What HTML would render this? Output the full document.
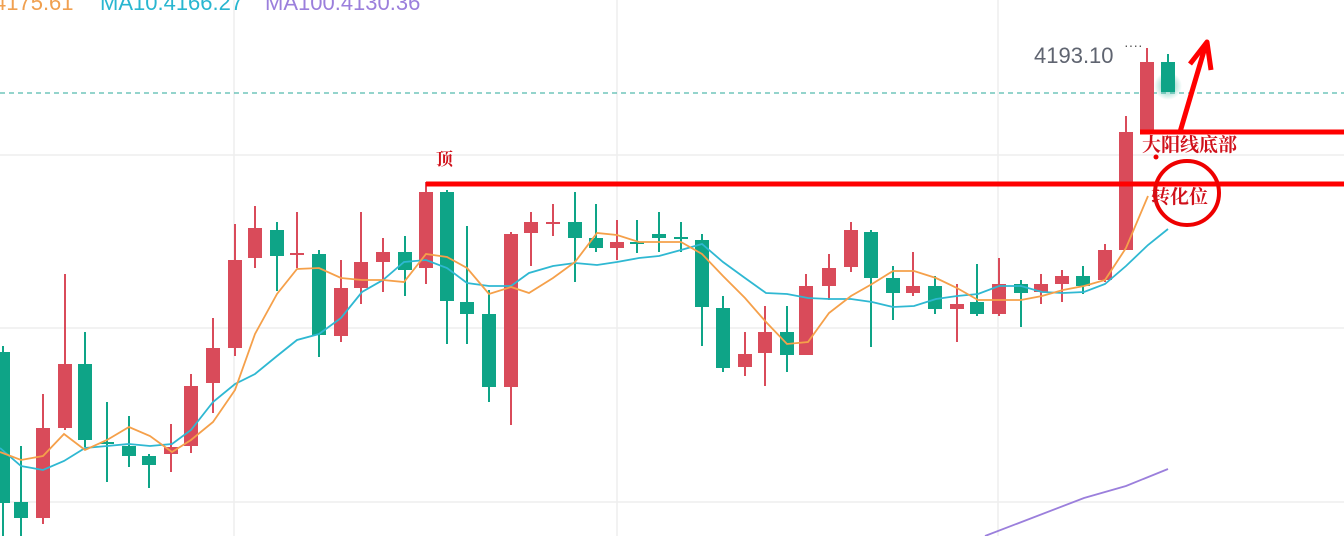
<!DOCTYPE html>
<html><head><meta charset="utf-8"><style>
html,body{margin:0;padding:0;background:#fff;width:1344px;height:536px;overflow:hidden}
svg{display:block}
text{font-family:"Liberation Sans","Noto Sans CJK SC",sans-serif}
text.cn{font-family:"Liberation Serif","Noto Serif CJK SC",serif;font-weight:bold}
</style></head><body>
<svg id="s" width="1344" height="536" viewBox="0 0 1344 536" xmlns="http://www.w3.org/2000/svg">
<defs><radialGradient id="g"><stop offset="0" stop-color="#0ea487" stop-opacity="0.6"/><stop offset="1" stop-color="#0ea487" stop-opacity="0"/></radialGradient></defs>
<g stroke="#eeeeee" stroke-width="1.5">
<line x1="0" y1="155" x2="1344" y2="155"/><line x1="0" y1="328" x2="1344" y2="328"/><line x1="0" y1="502" x2="1344" y2="502"/>
<line x1="234" y1="0" x2="234" y2="536"/><line x1="617" y1="0" x2="617" y2="536"/><line x1="998" y1="0" x2="998" y2="536"/>
</g>
<line x1="0" y1="93" x2="1344" y2="93" stroke="#2aa89a" stroke-width="1" stroke-dasharray="5,4"/>
<text x="-6" y="10" font-size="22" fill="#f0a050">4175.61</text>
<text x="100" y="10" font-size="22" fill="#29b6d0">MA10.4166.27</text>
<text x="265" y="10" font-size="22" fill="#9b7fdc">MA100.4130.36</text>
<g id="c"></g>
<circle cx="1168" cy="86" r="14" fill="url(#g)"/>
<text x="1034" y="63" font-size="22" fill="#5f6470">4193.10</text>
<text x="1124" y="50" font-size="14" fill="#555">····</text>
<line x1="426" y1="184" x2="1344" y2="184" stroke="#f00" stroke-width="5"/>
<line x1="1140" y1="132" x2="1344" y2="132" stroke="#f00" stroke-width="5"/>
<circle cx="1187" cy="193" r="32" fill="none" stroke="#e00" stroke-width="4"/>
<polyline points="1180,132 1206,44" stroke="#f00" stroke-width="5" fill="none"/>
<polyline points="1190,64 1207,42 1211,70" stroke="#f00" stroke-width="5" fill="none" stroke-linejoin="round"/>
<circle cx="1156" cy="157" r="2.5" fill="#e00"/>
<text class="cn" x="436" y="165" font-size="17" fill="#d0101a">顶</text>
<text class="cn" x="1142" y="151" font-size="19" fill="#d0101a">大阳线底部</text>
<text class="cn" x="1151" y="203" font-size="19" fill="#d0101a">转化位</text>
</svg>
<script>
var R="#d94b5a",G="#0ea487";
var d=[[3,G,352,503,346,536],[21,G,502,518,446,536],[43,R,428,518,394,524],[65,R,364,428,274,430],[85,G,364,440,332,447],[107,G,442,444,402,482],[129,G,446,456,416,467],[149,G,456,465,454,488],[171,R,447,454,424,472],[191,R,386,446,374,453],[213,R,348,383,318,413],[235,R,260,348,224,356],[255,R,228,258,206,268],[277,G,230,256,222,291],[297,R,253,255,212,268],[319,G,254,335,250,357],[341,R,288,336,260,342],[361,R,262,288,212,304],[383,R,252,262,238,292],[405,G,252,270,236,296],[426,R,192,268,182,284],[447,G,192,301,190,344],[467,G,302,314,226,344],[489,G,314,387,290,402],[511,R,234,387,232,425],[531,R,222,233,212,266],[553,R,222,224,204,236],[575,G,222,238,192,282],[596,G,238,248,204,252],[617,R,242,248,220,260],[637,G,242,244,220,253],[659,G,234,238,212,252],[681,G,237,239,222,252],[702,G,240,307,234,346],[723,G,308,368,296,372],[745,R,354,367,332,376],[765,R,332,353,306,386],[787,G,332,355,306,372],[806,R,286,355,274,355],[829,R,268,286,254,300],[851,R,230,267,222,272],[871,G,232,278,230,347],[893,G,278,293,266,320],[913,R,286,293,252,296],[935,G,286,309,276,314],[957,R,304,309,284,342],[977,G,302,314,264,316],[999,R,284,314,258,316],[1021,G,284,293,280,327],[1041,R,284,292,274,304],[1062,R,276,284,270,302],[1083,G,276,286,266,294],[1105,R,250,280,244,282],[1126,R,132,250,116,250],[1147,R,62,132,48,132],[1168,G,62,92,54,92]];
var h="";
d.forEach(function(c){var x=c[0];h+='<line x1="'+x+'" y1="'+c[4]+'" x2="'+x+'" y2="'+c[5]+'" stroke="'+c[1]+'" stroke-width="2"/>';
var t=c[2],b=c[3];if(b-t<2)b=t+2;h+='<rect x="'+(x-7)+'" y="'+t+'" width="14" height="'+(b-t)+'" fill="'+c[1]+'"/>';});
var m5="0,452 21,460 43,456 64,434 85,450 107,440 129,427 150,436 172,452 191,440 213,422 235,390 255,334 277,294 297,269 319,268 341,278 362,280 383,280 404,282 426,254 447,257 467,268 489,294 511,287 529,293 553,278 575,262 597,233 617,235 639,242 659,242 681,242 702,254 723,276 745,298 766,322 787,344 808,342 829,313 851,296 872,284 893,271 914,271 936,278 957,288 978,300 999,300 1021,300 1042,296 1063,290 1084,286 1105,280 1126,248 1148,196";
var m10="0,448 21,466 43,470 64,461 85,448 107,446 129,444 150,446 172,444 191,430 213,402 235,384 255,374 277,356 297,340 319,334 341,318 362,292 383,280 404,262 426,260 447,268 467,283 489,286 511,286 529,273 553,266 575,263 597,265 617,262 639,258 659,256 681,250 702,244 723,262 745,278 766,293 787,294 808,298 829,299 851,299 872,302 893,307 914,306 936,299 957,296 978,294 999,286 1021,286 1042,292 1063,293 1084,292 1105,284 1126,266 1148,245 1168,229";
h+='<polyline points="'+m10+'" fill="none" stroke="#2fb8d2" stroke-width="1.8"/>';
h+='<polyline points="'+m5+'" fill="none" stroke="#f5a04a" stroke-width="1.8"/>';
h+='<polyline points="985,536 1084,498 1126,486 1168,469" fill="none" stroke="#9b7fdc" stroke-width="1.8"/>';
document.getElementById("c").innerHTML=h;
</script>
</body></html>
